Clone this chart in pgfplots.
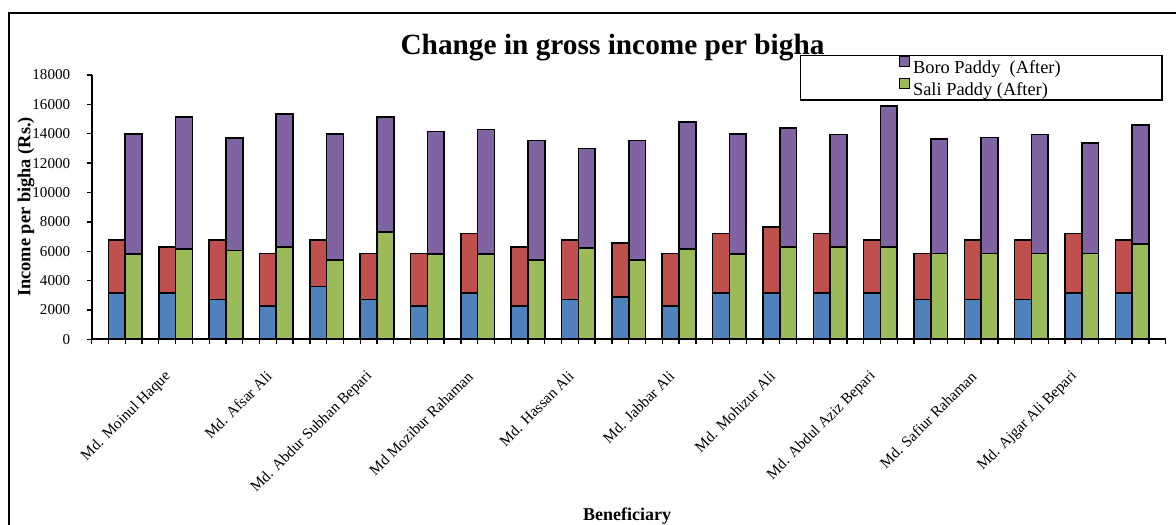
\documentclass[border=0pt]{standalone}
\usepackage{fontspec}
\setmainfont{Liberation Serif}
\usepackage{pgfplots}
\usepackage{pgfplotstable}
\pgfplotsset{compat=1.18}

\definecolor{xlblue}{HTML}{4F81BD}
\definecolor{xlred}{HTML}{C0504D}
\definecolor{xlgreen}{HTML}{9BBB59}
\definecolor{xlpurple}{HTML}{8064A2}

% Cumulative heights (Rs. per bigha) of the two stacks of each beneficiary:
% left stack = blue (lower) + red (upper), right stack = Sali paddy + Boro paddy
\pgfplotstableread{
g  blue  red   sali  boro
1  3150  6750  5800  14000
2  3150  6300  6150  15150
3  2700  6750  6050  13700
4  2250  5850  6300  15350
5  3600  6750  5400  14000
6  2700  5850  7300  15150
7  2250  5850  5800  14150
8  3150  7200  5800  14300
9  2250  6300  5400  13550
10 2700  6750  6200  13000
11 2900  6550  5400  13550
12 2250  5850  6150  14800
13 3150  7200  5800  14000
14 3150  7650  6300  14400
15 3150  7200  6300  13950
16 3150  6750  6300  15900
17 2700  5850  5850  13650
18 2700  6750  5850  13750
19 2700  6750  5850  13950
20 3150  7200  5850  13350
21 3150  6750  6500  14600
}\incometable

\pgfplotsset{
  incbar/.style={ybar, bar width=1, bar shift=0pt, draw=black, line width=1.2pt,
    legend image code/.code={\draw[##1,line width=1pt] (0pt,1pt) rectangle (7.5pt,8.5pt);}},
}

\begin{document}
\begin{tikzpicture}
\useasboundingbox (0pt,0pt) rectangle (882pt,393pt);
% chart frame
\draw[line width=2pt] (6.75pt,-2pt) -- (6.75pt,383.25pt) -- (884pt,383.25pt);

\begin{axis}[
  at={(68.775pt,138.525pt)}, anchor=south west,
  scale only axis, width=805.5pt, height=198.2pt,
  xmin=0, xmax=64, ymin=0, ymax=18000,
  axis x line*=bottom, axis y line*=left,
  axis line style={-, line width=1.5pt},
  tick align=outside, major tick length=3.5pt,
  tick style={line width=1pt, black},
  ytick={0,2000,...,18000},
  scaled y ticks=false,
  /pgf/number format/assume math mode=true,
  /pgf/number format/1000 sep={},
  yticklabel style={font=\fontsize{11.3}{13}\selectfont, inner sep=0pt, xshift=-12.5pt},
  xtick={0,...,64}, xticklabels={},
  extra x ticks={4.5,10.5,...,58.5},
  extra x tick labels={Md. Moinul Haque, Md. Afsar Ali, Md. Abdur Subhan Bepari,
    Md Mozibur Rahaman, Md. Hassan Ali, Md. Jabbar Ali, Md. Mohizur Ali,
    Md. Abdul Aziz Bepari, Md. Safiur Rahaman, Md. Ajgar Ali Bepari},
  extra x tick style={major tick length=0pt,
    xticklabel style={xshift=1pt, yshift=-26pt, rotate=45, anchor=east, inner sep=0pt,
      font=\fontsize{11.5}{13}\selectfont}},
  legend cell align=left,
  legend style={at={(0.6592,1.0757)}, anchor=north west, draw=black,
    line width=1.1pt, fill=white, inner xsep=74pt, inner ysep=0pt,
    font=\fontsize{13.8}{16}\selectfont, row sep=0pt},
]
\addplot[incbar, fill=xlred, forget plot]
  table[x expr=3*\thisrow{g}-1.5, y=red]{\incometable};
\addplot[incbar, fill=xlblue, forget plot]
  table[x expr=3*\thisrow{g}-1.5, y=blue]{\incometable};
\addplot[incbar, fill=xlpurple]
  table[x expr=3*\thisrow{g}-0.5, y=boro]{\incometable};
\addlegendentry{Boro Paddy~ (After)}
\addplot[incbar, fill=xlgreen]
  table[x expr=3*\thisrow{g}-0.5, y=sali]{\incometable};
\addlegendentry{Sali Paddy (After)}
\end{axis}

\node[font=\bfseries\fontsize{22}{26}\selectfont, anchor=base]
  at (459.4pt,351.75pt) {Change in gross income per bigha};
\node[rotate=90, font=\bfseries\fontsize{13.8}{16}\selectfont]
  at (19.5pt,237.75pt) {Income per bigha (Rs.)};
\node[font=\bfseries\fontsize{13.5}{16}\selectfont, anchor=base]
  at (470.25pt,3pt) {Beneficiary};
\end{tikzpicture}
\end{document}
